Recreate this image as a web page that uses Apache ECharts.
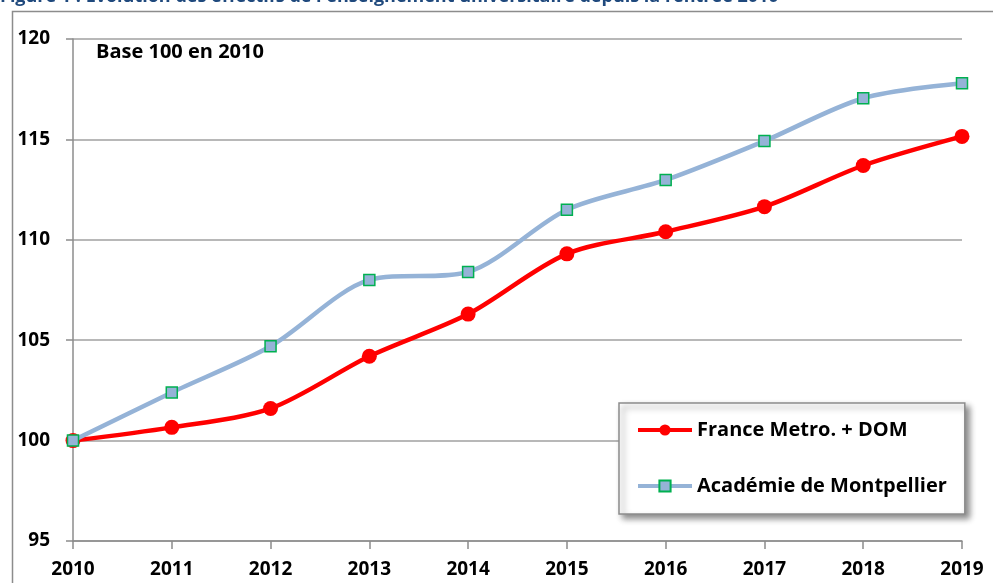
<!DOCTYPE html>
<html>
<head>
<meta charset="utf-8">
<script src="https://cdn.jsdelivr.net/npm/echarts@6/dist/echarts.min.js"></script>
<style>
  html, body { margin: 0; padding: 0; background: #fff; }
  #main { width: 993px; height: 583px; }
</style>
</head>
<body>
<div id="main"></div>
<script>
// données (base 100 en 2010)
var annees = ['2010', '2011', '2012', '2013', '2014', '2015', '2016', '2017', '2018', '2019'];
var franceMetroDom = [100, 100.66, 101.6, 104.2, 106.3, 109.3, 110.4, 111.65, 113.7, 115.15];
var academieMontpellier = [100, 102.4, 104.7, 108, 108.4, 111.5, 112.98, 114.92, 117.05, 117.8];
var ticksY = { min: 95, max: 120, interval: 5 };

var police = '"Open Sans", "Noto Sans", sans-serif';

var chart = echarts.init(document.getElementById('main'));

var option = {
    backgroundColor: '#ffffff',
    animation: false,
    graphic: [
        // titre coupé en haut de l'image
        {
            type: 'text',
            left: 0,
            top: -12,
            style: {
                text: "Figure 1 : Evolution des effectifs de l'enseignement universitaire depuis la rentrée 2010",
                fill: '#1f497d',
                font: 'bold 18px ' + police
            }
        },
        // cadre extérieur
        {
            type: 'rect',
            shape: { x: 12.5, y: 11.5, width: 1000, height: 600 },
            style: { fill: 'none', stroke: '#8c8c8c', lineWidth: 1.5 },
            z: -1
        },
        {
            type: 'text',
            left: 96,
            top: 42,
            style: {
                text: 'Base 100 en 2010',
                fill: '#000',
                font: 'bold 20px ' + police
            }
        }
    ],
    grid: {
        left: 73,
        right: 31,
        top: 39,
        bottom: 42
    },
    legend: {
        orient: 'vertical',
        left: 619,
        top: 403,
        padding: [17, 18, 18, 17],
        itemGap: 36,
        itemWidth: 54,
        itemHeight: 14,
        backgroundColor: '#fff',
        borderColor: '#8c8c8c',
        borderWidth: 1.5,
        shadowColor: 'rgba(0,0,0,0.45)',
        shadowBlur: 6,
        shadowOffsetX: 4,
        shadowOffsetY: 4,
        lineStyle: { width: 4 },
        textStyle: {
            color: '#000',
            fontWeight: 'bold',
            fontSize: 20,
            fontFamily: police
        },
        data: ['France Metro. + DOM', 'Académie de Montpellier']
    },
    xAxis: {
        type: 'category',
        boundaryGap: false,
        data: annees,
        axisLine: { lineStyle: { color: '#8c8c8c', width: 1.5 } },
        axisTick: { alignWithLabel: true, length: 8, lineStyle: { color: '#8c8c8c', width: 1.5 } },
        axisLabel: {
            color: '#000',
            fontWeight: 'bold',
            fontSize: 19,
            fontFamily: police,
            margin: 19
        }
    },
    yAxis: {
        type: 'value',
        min: ticksY.min,
        max: ticksY.max,
        interval: ticksY.interval,
        axisLine: { show: true, lineStyle: { color: '#8c8c8c', width: 1.5 } },
        axisTick: { show: true, length: 7, lineStyle: { color: '#8c8c8c', width: 1.5 } },
        splitLine: { lineStyle: { color: '#a0a0a0', width: 1.5 } },
        axisLabel: {
            color: '#000',
            fontWeight: 'bold',
            fontSize: 19,
            fontFamily: police,
            margin: 23
        }
    },
    series: [
        {
            name: 'Académie de Montpellier',
            type: 'line',
            data: academieMontpellier,
            smooth: 0.3,
            symbol: 'rect',
            symbolSize: 11,
            lineStyle: { color: '#95b3d7', width: 4.5 },
            itemStyle: { color: '#95b3d7', borderColor: '#00b050', borderWidth: 1.5 },
            z: 3
        },
        {
            name: 'France Metro. + DOM',
            type: 'line',
            data: franceMetroDom,
            smooth: 0.3,
            symbol: 'circle',
            symbolSize: 15,
            lineStyle: { color: '#ff0000', width: 4.5 },
            itemStyle: { color: '#ff0000', borderWidth: 0 },
            z: 2
        }
    ]
};

chart.setOption(option);
</script>
</body>
</html>
